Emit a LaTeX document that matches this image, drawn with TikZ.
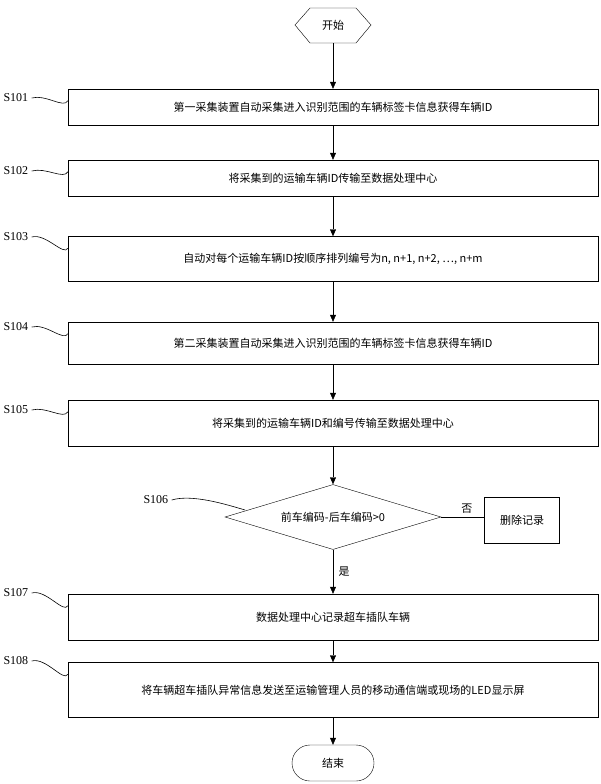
\documentclass[tikz,border=0pt]{standalone}
\usepackage{fontspec}
\setmainfont{Liberation Serif}
\newfontfamily\cjk{Noto Sans CJK SC}
\usetikzlibrary{positioning, shapes, arrows.meta}

\begin{document}
\begin{tikzpicture}[
    x=1pt, y=-1pt,
    box/.style={draw, rectangle, minimum width=530pt, minimum height=36pt, align=center, font=\cjk\fontsize{11}{15}\selectfont},
    arrow/.style={-{Triangle[length=7pt,width=6pt]}},
    steplabel/.style={font=\fontsize{12}{14}\selectfont, anchor=west},
    hook/.style={line width=0.6pt}
]
\useasboundingbox (0,0) rectangle (600,784);

% Start and end
\node[minimum width=76pt, minimum height=36pt, font=\cjk\fontsize{11}{13}\selectfont] (start) at (333,25) {开始};
\draw (295,25) -- (310,8) -- (356,8) -- (371,25) -- (356,43) -- (310,43) -- cycle;
\node[draw, rounded corners=18pt, minimum width=82pt, minimum height=36pt, font=\cjk\fontsize{11}{13}\selectfont] (stop) at (333,763) {结束};

% Main steps
\node[box] (s1) at (333,107) {第一采集装置自动采集进入识别范围的车辆标签卡信息获得车辆ID};
\node[box] (s2) at (333,178) {将采集到的运输车辆ID传输至数据处理中心};
\node[box, minimum height=45pt] (s3) at (333,259) {自动对每个运输车辆ID按顺序排列编号为n, n+1, n+2, …, n+m};
\node[box, minimum height=42pt] (s4) at (333,343) {第二采集装置自动采集进入识别范围的车辆标签卡信息获得车辆ID};
\node[box, minimum height=46pt] (s5) at (333,423) {将采集到的运输车辆ID和编号传输至数据处理中心};
\node[draw, diamond, aspect=3.3, minimum width=216pt, minimum height=65pt, inner sep=0pt, font=\cjk\fontsize{11}{13}\selectfont] (check) at (333,517) {前车编码-后车编码>0};
\node[draw, minimum width=75pt, minimum height=46pt, font=\cjk\fontsize{11}{13}\selectfont] (del) at (522,520) {删除记录};
\node[box, minimum height=46pt] (s7) at (333,617) {数据处理中心记录超车插队车辆};
\node[box, minimum height=55pt, text width=520pt] (s8) at (333,690) {将车辆超车插队异常信息发送至运输管理人员的移动通信端或现场的LED显示屏};

% Arrows
\draw[arrow] (start) -- (s1);
\draw[arrow] (s1) -- (s2);
\draw[arrow] (s2) -- (s3);
\draw[arrow] (s3) -- (s4);
\draw[arrow] (s4) -- (s5);
\draw[arrow] (s5) -- (check);
\draw (check.east) -- node[above, font=\cjk\fontsize{11}{13}\selectfont, xshift=4pt] {否} (del.west |- check.east);
\draw[arrow] (check) -- node[right, font=\cjk\fontsize{11}{13}\selectfont, xshift=2pt] {是} (s7);
\draw[arrow] (s7) -- (s8);
\draw[arrow] (s8) -- (stop);

% Step labels
\foreach \lab/\ypos/\tgt in {S101/98/s1, S102/171/s2, S103/237/s3, S104/327/s4, S105/410/s5, S107/593/s7, S108/661/s8} {
  \node[steplabel] (l\tgt) at (0,\ypos) {\lab};
  \draw[hook] (l\tgt.east) .. controls +(14,-4) and +(-4,8) .. ([yshift=-12pt]\tgt.north west);
}
\node[steplabel] (l6) at (140,500) {S106};
\draw[hook] (l6.east) .. controls +(20,-6) and +(-20,-6) .. (245,510);

\end{tikzpicture}
\end{document}
